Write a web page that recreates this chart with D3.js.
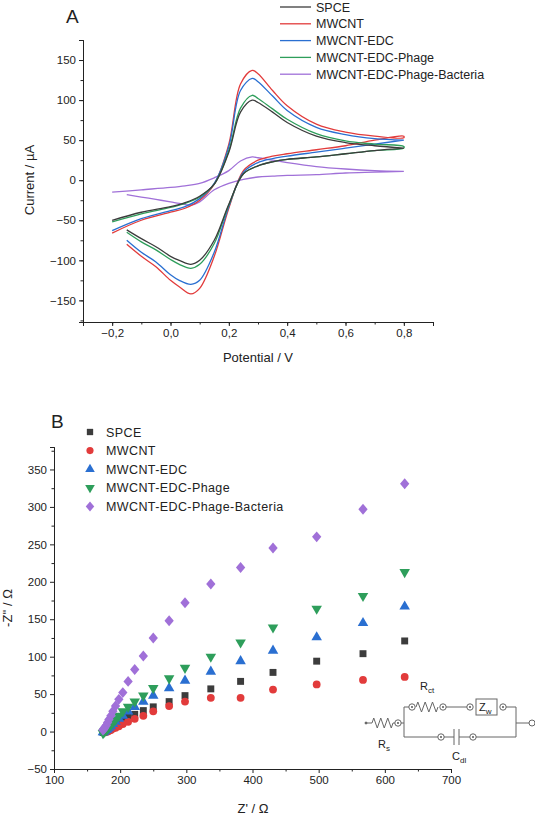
<!DOCTYPE html>
<html><head><meta charset="utf-8">
<script src="https://cdn.jsdelivr.net/npm/d3@7"></script>
<style>
body{margin:0;background:#fff;font-family:"Liberation Sans",Arial,sans-serif}
svg text{fill:#222}
.tick text{font-size:11.5px;font-family:"Liberation Sans",Arial,sans-serif}
.domain,.tick line{stroke:#222}
</style></head><body>
<script>
// ---- data ----
const seriesNames = ['SPCE', 'MWCNT', 'MWCNT-EDC', 'MWCNT-EDC-Phage', 'MWCNT-EDC-Phage-Bacteria'];
const colors = ['#3c3c3c', '#e23b3b', '#2a6fd1', '#2e9e5b', '#a070d8'];

// CV: forward (anodic) scan and reverse scan potentials, V
const eFwd = [-0.2, -0.1, 0, 0.05, 0.1, 0.15, 0.2, 0.24, 0.28, 0.3, 0.35, 0.4, 0.5, 0.6, 0.7, 0.8];
const eRev = [0.8, 0.7, 0.6, 0.5, 0.4, 0.35, 0.3, 0.25, 0.2, 0.15, 0.1, 0.07, 0.03, 0, -0.05, -0.1, -0.15];
const iFwd = [
  [-50, -40, -33, -28, -20, -5, 35, 85, 100, 97, 85, 72, 55, 47, 43, 40],
  [-66, -50, -40, -35, -25, -5, 45, 120, 137, 133, 112, 93, 70, 60, 55, 53],
  [-63, -48, -38, -33, -23, -4, 42, 112, 127, 123, 105, 87, 66, 57, 52, 50],
  [-52, -42, -34, -29, -21, -5, 37, 90, 106, 102, 89, 76, 58, 49, 45, 42],
  [-15, -12, -9, -7, -4, 3, 12, 24, 29, 28, 25, 22, 17, 14, 12, 11]
];
const iRev = [
  [40, 37, 33, 29, 26, 23, 18, 8, -30, -75, -100, -105, -100, -95, -83, -73, -62],
  [55, 50, 43, 38, 33, 30, 25, 12, -35, -95, -135, -142, -133, -125, -108, -95, -80],
  [50, 45, 40, 35, 30, 27, 22, 10, -33, -90, -125, -130, -125, -118, -102, -90, -75],
  [40, 37, 33, 29, 26, 23, 18, 8, -31, -79, -105, -110, -105, -99, -87, -77, -65],
  [11, 10, 9, 7, 6, 5, 4, 1, -4, -12, -27, -31, -29, -27, -24, -21, -18]
];

// EIS: Z' (ohm) and -Z'' (ohm)
const zRe = [630, 567, 497, 431, 382, 337, 298, 274, 250, 235, 222, 212, 204, 198, 193, 189, 186, 183, 181, 179, 177, 176, 175, 174];
const zIm = [
  [121, 104, 94, 79, 67, 57, 48, 40, 33, 28, 23, 19, 15, 12, 9, 7, 5, 3, 2, 1, 0, 0, -1, -1],
  [73, 69, 63, 56, 45, 45, 40, 34, 27, 21, 17, 13, 10, 7, 5, 4, 2, 1, 0, 0, -1, -1, -1, 0],
  [167, 145, 126, 108, 94, 80, 68, 58, 48, 40, 33, 27, 21, 17, 13, 10, 7, 5, 3, 2, 1, 0, -1, -1],
  [213, 181, 164, 139, 119, 100, 85, 71, 58, 48, 40, 33, 27, 21, 16, 12, 9, 6, 4, 2, 1, 0, -1, -2],
  [331, 297, 260, 245, 219, 197, 172, 148, 125, 101, 83, 67, 52, 43, 34, 27, 21, 16, 12, 8, 6, 4, 3, 2]
];
const symbols = [d3.symbolSquare, d3.symbolCircle, d3.symbolTriangle, 'down', d3.symbolDiamond];

const svg = d3.select('body').append('svg').attr('width', 535).attr('height', 818);
const comma = f => d => f(d).replace('.', ',').replace('-', '\u2212');

// ---- panel A ----
const xA = d3.scaleLinear().domain([-0.3, 0.9]).range([83, 433]);
const yA = d3.scaleLinear().domain([-177, 175]).range([322, 40]);
const gA = svg.append('g');
gA.append('g').attr('transform', 'translate(0,322)')
  .call(d3.axisBottom(xA).tickValues([-0.2, 0, 0.2, 0.4, 0.6, 0.8]).tickFormat(comma(d3.format('.1f'))).tickSize(4));
gA.append('g').attr('transform', 'translate(0,322)')
  .call(d3.axisBottom(xA).tickValues(d3.range(-0.3, 0.91, 0.1)).tickFormat('').tickSize(2.5));
gA.append('g').attr('transform', 'translate(83,0)')
  .call(d3.axisLeft(yA).tickValues(d3.range(-150, 151, 50)).tickFormat(d => String(d).replace('-', '\u2212')).tickSize(4));
gA.append('g').attr('transform', 'translate(83,0)')
  .call(d3.axisLeft(yA).tickValues(d3.range(-175, 176, 25)).tickFormat('').tickSize(2.5));
gA.append('text').attr('x', 66).attr('y', 23).attr('font-size', 19).text('A');
gA.append('text').attr('x', 258).attr('y', 362).attr('text-anchor', 'middle').attr('font-size', 13).text('Potential / V');
gA.append('text').attr('transform', 'translate(34,180) rotate(-90)').attr('text-anchor', 'middle').attr('font-size', 13).text('Current / \u00b5A');

const line = d3.line().x(d => xA(d[0])).y(d => yA(d[1])).curve(d3.curveCatmullRom.alpha(0.5));
[4, 1, 2, 3, 0].forEach(k => {
  const pts = eFwd.map((e, i) => [e, iFwd[k][i]]).concat(eRev.map((e, i) => [e, iRev[k][i]]));
  gA.append('path').attr('d', line(pts)).attr('fill', 'none').attr('stroke', colors[k]).attr('stroke-width', 1.3);
});
const legA = gA.append('g');
seriesNames.forEach((n, k) => {
  const y = 7 + k * 16.8;
  legA.append('line').attr('x1', 280).attr('x2', 311).attr('y1', y).attr('y2', y).attr('stroke', colors[k]).attr('stroke-width', 1.3);
  legA.append('text').attr('x', 316).attr('y', y + 4.5).attr('font-size', 12.5).text(n);
});

// ---- panel B ----
const xB = d3.scaleLinear().domain([100, 700]).range([54, 451]);
const yB = d3.scaleLinear().domain([-50, 380]).range([769, 447]);
const gB = svg.append('g');
gB.append('g').attr('transform', 'translate(0,769)')
  .call(d3.axisBottom(xB).tickValues(d3.range(100, 701, 100)).tickSize(4));
gB.append('g').attr('transform', 'translate(0,769)')
  .call(d3.axisBottom(xB).tickValues(d3.range(150, 700, 100)).tickFormat('').tickSize(2.5));
gB.append('g').attr('transform', 'translate(54,0)')
  .call(d3.axisLeft(yB).tickValues(d3.range(-50, 351, 50)).tickFormat(d => String(d).replace('-', '\u2212')).tickSize(4));
gB.append('g').attr('transform', 'translate(54,0)')
  .call(d3.axisLeft(yB).tickValues(d3.range(-25, 376, 50)).tickFormat('').tickSize(2.5));
gB.append('text').attr('x', 51).attr('y', 428).attr('font-size', 19).text('B');
gB.append('text').attr('x', 253).attr('y', 813).attr('text-anchor', 'middle').attr('font-size', 13).text('Z\' / \u03a9');
gB.append('text').attr('transform', 'translate(12,608) rotate(-90)').attr('text-anchor', 'middle').attr('font-size', 13).text('-Z\'\' / \u03a9');

const sym = (k, size) => symbols[k] === 'down'
  ? d3.symbol(d3.symbolTriangle, size)()
  : d3.symbol(symbols[k], size)();
const rot = k => symbols[k] === 'down' ? ' rotate(180)' : (symbols[k] === d3.symbolDiamond ? ' scale(1.25,0.85)' : '');
[0, 1, 2, 3, 4].forEach(k => {
  gB.append('g').selectAll('path').data(zRe.map((z, i) => [z, zIm[k][i]])).join('path')
    .attr('d', sym(k, 48))
    .attr('transform', d => `translate(${xB(d[0])},${yB(d[1])})${rot(k)}`)
    .attr('fill', colors[k]);
});
seriesNames.forEach((n, k) => {
  const y = 432 + k * 18.6;
  gB.append('path').attr('d', sym(k, 40))
    .attr('transform', `translate(90,${y})${rot(k)}`).attr('fill', colors[k]);
  gB.append('text').attr('x', 106).attr('y', y + 4.5).attr('font-size', 12.5).attr('letter-spacing', 0.4).text(n);
});

// equivalent circuit inset
const c = gB.append('g').attr('stroke', '#666').attr('fill', 'none').attr('stroke-width', 1);
const zig = (x0, x1, y) => {
  const n = 6, w = (x1 - x0) / n, pts = [[x0, y]];
  for (let i = 0; i < n; i++) pts.push([x0 + w * (i + 0.5), y + (i % 2 ? 5 : -5)]);
  pts.push([x1, y]);
  c.append('path').attr('d', d3.line()(pts));
};
const node = (x, y) => {
  c.append('circle').attr('cx', x).attr('cy', y).attr('r', 3.2).attr('fill', '#fff');
  c.append('circle').attr('cx', x).attr('cy', y).attr('r', 0.9).attr('fill', '#444').attr('stroke', 'none');
};
const seg = (x1, y1, x2, y2) => c.append('line').attr('x1', x1).attr('y1', y1).attr('x2', x2).attr('y2', y2);
c.append('circle').attr('cx', 366).attr('cy', 723).attr('r', 1).attr('fill', '#444');
seg(366, 723, 372, 723); zig(372, 393, 723); seg(393, 723, 398, 723); node(398, 723);
seg(401, 723, 404, 723); seg(404, 707, 404, 737);
seg(404, 707, 412, 707); node(412, 707); zig(416, 438, 707); node(443, 707);
seg(446, 707, 467, 707); node(470, 707);
c.append('rect').attr('x', 476).attr('y', 699).attr('width', 21).attr('height', 16);
node(503, 707); seg(506, 707, 516, 707);
seg(404, 737, 441, 737); node(441, 737); seg(444, 737, 454, 737);
seg(454, 729, 454, 745); seg(459, 729, 459, 745); seg(459, 737, 473, 737); node(473, 737);
seg(476, 737, 516, 737); seg(516, 707, 516, 737); seg(516, 723, 529, 723);
c.append('circle').attr('cx', 532).attr('cy', 723).attr('r', 3);
const lab = (x, y, main, sub) => {
  const t = gB.append('text').attr('x', x).attr('y', y).attr('font-size', 11).attr('fill', '#333');
  t.append('tspan').text(main);
  t.append('tspan').attr('font-size', 8).attr('dy', 3).text(sub);
};
lab(420, 690, 'R', 'ct'); lab(378, 748, 'R', 's'); lab(452, 760, 'C', 'dl'); lab(479, 711, 'Z', 'w');
</script>
</body></html>
